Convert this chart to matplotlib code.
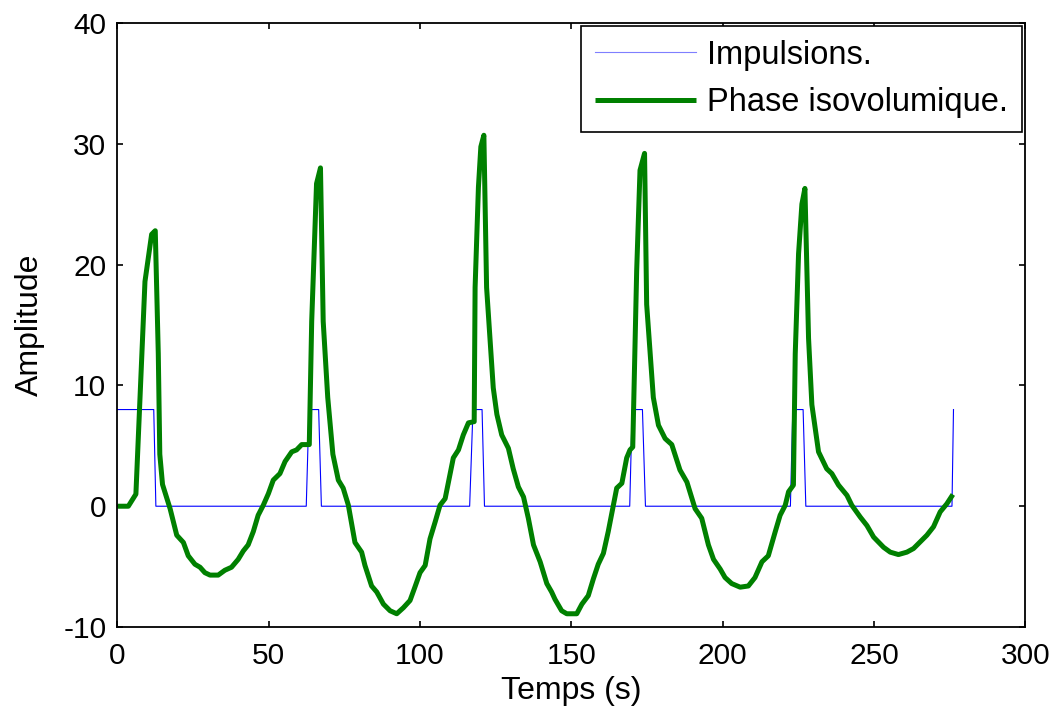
import matplotlib
matplotlib.use("Agg")
import matplotlib.pyplot as plt

# Impulse train (breakpoints)
imp_t = [0, 12.0, 12.7, 62.4, 63.3, 66.5, 67.4, 116.4, 117.5, 120.5, 121.3,
         169.3, 170.1, 173.5, 174.5, 222.4, 223.2, 226.6, 227.5, 275.8, 276.3]
imp_v = [8, 8, 0, 0, 8, 8, 0, 0, 8, 8, 0,
         0, 8, 8, 0, 0, 8, 8, 0, 0, 8]

# Isovolumic phase curve
iso_t = [0, 3.6, 6.1, 9.1, 11.3, 12.5, 13.5, 14.0, 14.9, 17.4, 19.6, 21.8, 23.4,
         25.6, 27.3, 28.9, 30.6, 33.3, 35.5, 37.7, 39.9, 41.6, 43.2, 44.9, 46.5,
         48.2, 49.9, 51.5, 53.7, 55.4, 57.6, 59.2, 60.9, 63.4, 64.2, 65.8, 67.1,
         68.0, 69.5, 71.2, 73.0, 74.6, 76.3, 78.5, 80.7, 81.8, 84.0, 85.7, 87.9,
         90.1, 92.3, 94.5, 96.7, 98.3, 100.0, 101.7, 103.3, 105.0, 106.6, 108.3,
         109.9, 111.0, 112.7, 114.3, 116.0, 117.9, 118.2, 119.3, 120.1, 121.1,
         122.0, 124.2, 125.4, 127.0, 129.2, 130.8, 132.5, 134.2, 135.8, 137.5,
         139.7, 141.9, 143.5, 144.6, 146.8, 148.5, 151.8, 153.5, 155.6, 157.3,
         158.9, 160.6, 162.2, 163.9, 165.0, 166.7, 168.3, 169.4, 170.3, 171.6,
         172.7, 174.2, 174.9, 177.1, 178.8, 181.0, 183.2, 185.9, 188.2, 190.9,
         193.1, 195.3, 197.0, 199.2, 200.8, 203.0, 205.8, 208.5, 210.7, 213.0,
         215.1, 217.4, 219.0, 220.7, 221.8, 223.4, 224.0, 225.1, 226.2, 227.2,
         228.4, 229.5, 231.7, 234.4, 236.1, 238.3, 241.1, 242.7, 245.5, 247.7,
         249.9, 253.2, 255.4, 258.1, 260.9, 263.1, 267.5, 269.7, 271.9, 274.1,
         276.1]
iso_v = [0, 0, 1.0, 18.6, 22.5, 22.8, 12.6, 4.3, 1.8, -0.2, -2.4, -3.0, -4.1,
         -4.8, -5.05, -5.5, -5.7, -5.7, -5.3, -5.05, -4.4, -3.7, -3.2, -2.1, -0.75,
         0.08, 1.05, 2.16, 2.7, 3.7, 4.5, 4.66, 5.1, 5.1, 15.3, 26.7, 28.0,
         15.3, 9.0, 4.3, 2.16, 1.5, 0.1, -3.0, -3.8, -4.9, -6.6, -7.1, -8.1,
         -8.65, -8.9, -8.4, -7.8, -6.7, -5.5, -4.9, -2.7, -1.3, 0.08, 0.63,
         2.6, 4.0, 4.66, 5.9, 6.9, 7.0, 18.1, 26.4, 29.75, 30.7,
         18.1, 9.8, 7.6, 5.9, 4.8, 3.1, 1.6, 0.77, -1.0, -3.2,
         -4.6, -6.4, -7.1, -7.7, -8.65, -8.9, -8.9, -8.1, -7.4, -6.0,
         -4.8, -3.9, -2.1, 0.08, 1.5, 1.9, 4.0, 4.66, 4.9, 19.5,
         27.8, 29.2, 16.7, 9.0, 6.7, 5.6, 5.1, 3.0, 2.0, -0.2,
         -1.0, -3.2, -4.4, -5.2, -5.9, -6.4, -6.7, -6.6, -5.9, -4.6,
         -4.1, -2.1, -0.75, 0.08, 1.2, 1.75, 12.6, 20.9, 25.0, 26.3,
         13.9, 8.4, 4.5, 3.1, 2.7, 1.75, 0.9, 0.08, -0.9, -1.6,
         -2.55, -3.4, -3.8, -4.0, -3.8, -3.5, -2.4, -1.7, -0.47, 0.2,
         0.97]

x_ticks = [0, 50, 100, 150, 200, 250, 300]
y_ticks = [-10, 0, 10, 20, 30, 40]

plt.rcParams['font.family'] = ['Liberation Sans', 'DejaVu Sans']
plt.rcParams['axes.unicode_minus'] = False

fig = plt.figure(figsize=(10.58, 7.15), dpi=100)
ax = fig.add_axes([0.111, 0.123, 0.858, 0.845])

ax.plot(imp_t, imp_v, color='#0000ff', lw=0.8, label='Impulsions.')
ax.plot(iso_t, iso_v, color='#008000', lw=3.6, label='Phase isovolumique.',
        solid_joinstyle='round', solid_capstyle='butt')

ax.set_xlim(0, 300)
ax.set_ylim(-10, 40)
ax.set_xticks(x_ticks)
ax.set_yticks(y_ticks)
ax.tick_params(direction='in', length=4, width=1.2, top=True, right=True,
               labelsize=21.5)
ax.tick_params(axis='x', pad=11)
ax.tick_params(axis='y', pad=8)
for s in ax.spines.values():
    s.set_linewidth(1.3)

ax.set_xlabel('Temps (s)', fontsize=23, labelpad=4)
ax.set_ylabel('Amplitude', fontsize=23, labelpad=13)

leg = ax.legend(loc='upper right', fontsize=23.5, handlelength=3.1,
                handletextpad=0.35, borderaxespad=0.1, fancybox=False,
                edgecolor='black', framealpha=1, borderpad=0.42,
                labelspacing=0.5)
leg.get_frame().set_linewidth(1.2)
leg.get_lines()[0].set_color('#7f7fff')

fig.savefig('out.png', dpi=100)
